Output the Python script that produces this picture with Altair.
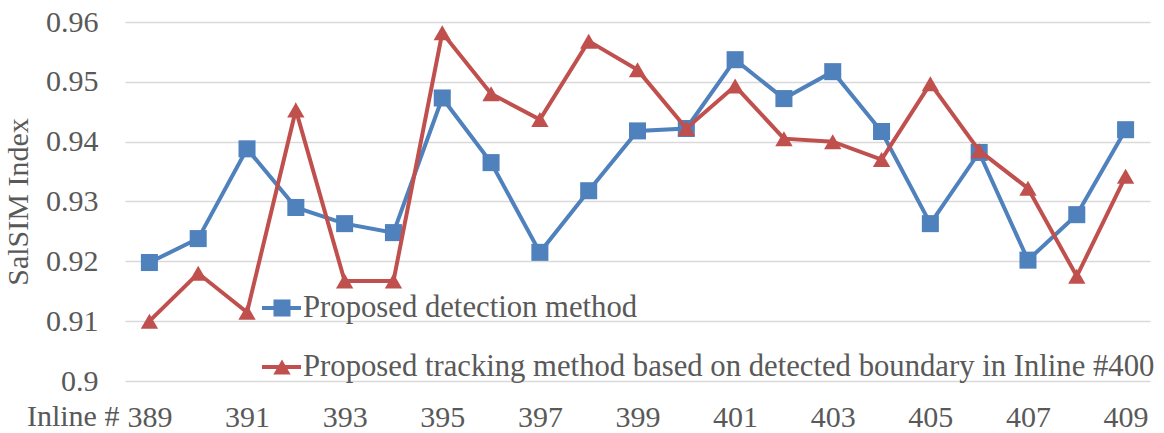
import altair as alt
import pandas as pd

# Inline numbers along the x axis
inline = list(range(389, 410))

# SalSIM index per inline for both methods
detection = [0.9198, 0.9238, 0.9388, 0.9290, 0.9263, 0.9248, 0.9473, 0.9365,
             0.9215, 0.9318, 0.9418, 0.9422, 0.9537, 0.9472, 0.9517, 0.9417,
             0.9263, 0.9382, 0.9202, 0.9278, 0.9420]
tracking = [0.9100, 0.9180, 0.9115, 0.9453, 0.9167, 0.9167, 0.9582, 0.9480,
            0.9437, 0.9568, 0.9520, 0.9422, 0.9493, 0.9405, 0.9400, 0.9370,
            0.9497, 0.9385, 0.9322, 0.9175, 0.9342]

series_names = ["Proposed detection method",
                "Proposed tracking method based on detected boundary in Inline #400"]
series_colors = ["#4F81BD", "#C0504D"]
series_shapes = ["square", "triangle-up"]
series_sizes = [290, 300]

x_ticks = list(range(389, 410, 2))
y_ticks = [0.90, 0.91, 0.92, 0.93, 0.94, 0.95, 0.96]

W, H = 1025, 359
FONT = "Liberation Serif, Times New Roman, serif"
TEXT = "#595959"
FS = 30
LEGEND_FS = 30.7

rows = []
for name, vals in zip(series_names, [detection, tracking]):
    for xi, v in zip(inline, vals):
        rows.append({"inline": xi, "value": v, "series": name})
df = pd.DataFrame(rows)

x_enc = alt.X(
    "inline:Q",
    scale=alt.Scale(domain=[388.5, 409.5], nice=False, zero=False),
    axis=alt.Axis(values=x_ticks, title=None, grid=False, domain=False, ticks=False,
                  labelFont=FONT, labelFontSize=FS, labelColor=TEXT,
                  labelBaseline="alphabetic", labelPadding=45, format="d",
                  labelFlush=False, labelOverlap=False),
)
y_enc = alt.Y(
    "value:Q",
    scale=alt.Scale(domain=[0.9, 0.96], nice=False, zero=False),
    axis=alt.Axis(values=y_ticks, format=".2~f", title="SalSIM Index",
                  domain=False, ticks=False, grid=True, gridColor="#D9D9D9",
                  gridWidth=1.3, labelFont=FONT, labelFontSize=FS, labelColor=TEXT,
                  labelPadding=27, titleFont=FONT, titleFontSize=FS,
                  titleFontWeight="normal", titleColor=TEXT, titlePadding=12),
)

layers = []
for name, color, shape, size in zip(series_names, series_colors, series_shapes, series_sizes):
    base = alt.Chart(df).transform_filter(alt.datum.series == name)
    layers.append(base.mark_line(color=color, strokeWidth=4).encode(x=x_enc, y=y_enc))
    layers.append(base.mark_point(shape=shape, filled=True, color=color, size=size,
                                  opacity=1).encode(x="inline:Q", y="value:Q"))

# "Inline #" prefix in front of the first x label
prefix = alt.Chart(pd.DataFrame({"inline": [inline[0]], "t": ["Inline #"]})).mark_text(
    align="right", baseline="alphabetic", dx=-30, font=FONT, fontSize=FS, color=TEXT
).encode(x="inline:Q", y=alt.value(H + 45), text="t:N")
layers.append(prefix)

# Legend drawn inside the plot area
legend_y = [286, 345]
for name, color, shape, size, ly in zip(series_names, series_colors, series_shapes,
                                        series_sizes, legend_y):
    ldf = pd.DataFrame({"label": [name]})
    layers.append(alt.Chart(ldf).mark_rule(color=color, strokeWidth=4).encode(
        x=alt.value(137), x2=alt.value(176), y=alt.value(ly)))
    layers.append(alt.Chart(ldf).mark_point(shape=shape, filled=True, color=color,
                                            size=size, opacity=1).encode(
        x=alt.value(157), y=alt.value(ly)))
    layers.append(alt.Chart(ldf).mark_text(align="left", baseline="middle", font=FONT,
                                           fontSize=LEGEND_FS, color=TEXT).encode(
        x=alt.value(178), y=alt.value(ly), text="label:N"))

chart = alt.layer(*layers).properties(
    width=W, height=H,
    autosize=alt.AutoSizeParams(type="none"),
    padding={"left": 125, "top": 22, "right": 14, "bottom": 52},
    background="white",
).configure_view(stroke=None)

chart.save("out.html", embed_options={"renderer": "svg", "actions": False})
